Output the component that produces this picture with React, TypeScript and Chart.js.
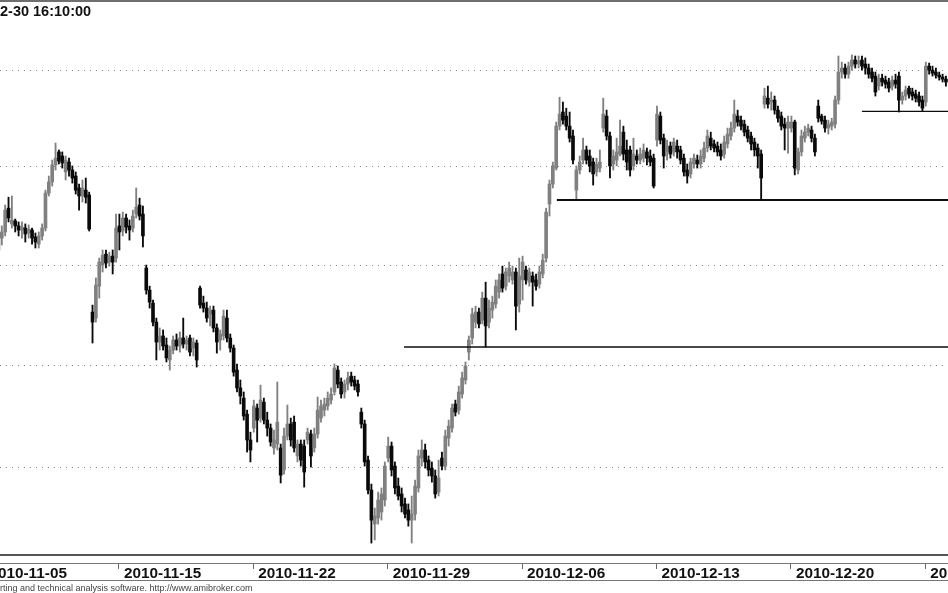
import { useEffect, useRef } from "react";
import { Chart, registerables } from "chart.js";

Chart.register(...registerables);

// ---- data (hourly bars, index 0 = first bar of 2010-11-05) ----
const firstBar = 4;

const openPrices = [
  2707.6, 2713.6, 2716.7, 2728.8,
  2720.8, 2722.3, 2719.8, 2717.7, 2718.7, 2716.2, 2717.7, 2714.2,
  2710.6, 2714.7, 2718.7, 2736.5, 2742.2, 2750.9, 2757.6, 2755.5,
  2747.3, 2752.4, 2748.3, 2745.2, 2739.1, 2735.0, 2738.0, 2735.5,
  2676.4, 2673.4, 2689.4, 2700.0, 2705.5, 2701.5, 2704.5, 2703.5,
  2719.8, 2717.2, 2723.8, 2719.8, 2718.7, 2725.8, 2730.4, 2725.8,
  2698.5, 2687.4, 2680.9, 2671.4, 2661.5, 2664.5, 2660.0, 2652.6,
  2657.5, 2662.5, 2659.5, 2663.5, 2660.5, 2663.5, 2658.5, 2661.0,
  2688.4, 2680.9, 2678.4, 2675.4, 2677.4, 2668.5, 2662.5, 2664.5,
  2673.4, 2663.5, 2658.5, 2647.6, 2638.8, 2633.8, 2625.9, 2613.3,
  2619.1, 2628.9, 2624.0, 2631.8, 2623.0, 2619.1, 2609.4, 2611.3,
  2609.4, 2598.7, 2615.2, 2621.1, 2622.0, 2605.5, 2611.3, 2610.3,
  2613.3, 2616.2, 2609.4, 2616.2, 2624.0, 2627.9, 2629.9, 2632.8,
  2636.8, 2647.6, 2641.7, 2636.8, 2640.7, 2644.6, 2642.7, 2640.7,
  2626.9, 2621.1, 2603.5, 2589.0, 2572.6, 2575.5, 2578.4, 2584.2,
  2604.5, 2610.3, 2600.6, 2590.9, 2587.1, 2582.3, 2579.4, 2574.5,
  2577.4, 2590.0, 2604.5, 2608.4, 2603.5, 2599.6, 2595.8, 2588.0,
  2604.5, 2600.6, 2614.2, 2619.1, 2630.9, 2627.9, 2635.8, 2642.7,
  2656.5, 2663.5, 2671.4, 2676.4, 2672.4, 2683.4, 2671.4, 2677.4,
  2680.4, 2686.4, 2695.5, 2689.4, 2694.5, 2692.5, 2696.5, 2680.4,
  2692.5, 2697.5, 2691.4, 2694.5, 2692.5, 2690.4, 2695.5, 2703.5,
  2730.9, 2741.1, 2749.3, 2770.9, 2778.2, 2776.1, 2770.9, 2765.8,
  2738.0, 2748.3, 2753.4, 2758.6, 2755.5, 2752.4, 2747.3, 2749.3,
  2769.9, 2776.1, 2765.8, 2751.4, 2753.4, 2756.5, 2767.8, 2758.6,
  2758.6, 2750.4, 2755.5, 2753.4, 2754.4, 2757.6, 2755.5, 2754.4,
  2763.7, 2776.1, 2764.7, 2757.6, 2760.6, 2757.6, 2760.6, 2758.6,
  2754.4, 2748.3, 2746.3, 2751.4, 2753.4, 2751.4, 2754.4, 2759.6,
  2764.7, 2761.7, 2760.6, 2758.6, 2756.5, 2761.7, 2765.8, 2769.9,
  2776.1, 2774.0, 2771.9, 2768.9, 2765.8, 2762.7, 2759.6, 2756.5,
  2782.3, 2785.4, 2783.4, 2784.4, 2779.2, 2776.1, 2771.9, 2769.9,
  2769.9, 2773.0, 2748.3, 2757.6, 2764.7, 2767.8, 2768.9, 2764.7,
  2781.3, 2776.1, 2774.0, 2769.9, 2770.9, 2771.9, 2784.4, 2799.0,
  2801.1, 2797.9, 2802.1, 2805.3, 2803.2, 2805.3, 2803.2, 2801.1,
  2799.0, 2796.9, 2791.7, 2795.8, 2794.8, 2793.8, 2791.7, 2794.8,
  2796.9, 2784.4, 2786.5, 2790.6, 2788.6, 2787.5, 2786.5, 2784.4,
  2783.4, 2802.1, 2800.0, 2799.0, 2797.4, 2796.4, 2795.3,
];

const highPrices = [
  2716.7, 2719.8, 2730.4, 2734.4,
  2735.0, 2723.3, 2721.8, 2721.8, 2720.8, 2720.3, 2718.7, 2716.2,
  2716.7, 2720.8, 2738.0, 2745.2, 2753.4, 2762.2, 2758.6, 2757.6,
  2755.5, 2754.4, 2750.4, 2747.3, 2741.1, 2743.2, 2744.2, 2737.0,
  2679.9, 2693.5, 2703.5, 2707.6, 2707.6, 2706.5, 2707.6, 2725.8,
  2725.8, 2726.8, 2725.8, 2722.8, 2727.8, 2739.1, 2733.9, 2729.9,
  2700.0, 2689.4, 2682.4, 2673.4, 2668.5, 2667.5, 2663.5, 2659.5,
  2664.5, 2665.5, 2666.5, 2673.4, 2664.5, 2665.0, 2663.5, 2662.5,
  2689.4, 2684.4, 2681.4, 2679.4, 2679.4, 2670.5, 2667.5, 2677.4,
  2677.4, 2665.5, 2660.0, 2650.6, 2642.7, 2636.8, 2627.9, 2617.1,
  2632.8, 2630.9, 2640.2, 2633.8, 2626.9, 2621.1, 2618.1, 2641.7,
  2611.3, 2619.1, 2630.4, 2624.0, 2625.0, 2613.3, 2613.3, 2613.3,
  2619.1, 2618.1, 2619.1, 2634.3, 2632.8, 2633.8, 2636.8, 2638.8,
  2650.6, 2649.6, 2643.7, 2642.7, 2646.6, 2646.6, 2644.6, 2642.7,
  2628.9, 2623.0, 2605.5, 2591.9, 2580.3, 2588.0, 2590.0, 2602.6,
  2614.7, 2612.3, 2602.6, 2594.8, 2590.0, 2585.1, 2582.3, 2586.1,
  2593.8, 2608.4, 2613.3, 2611.3, 2605.5, 2602.6, 2598.7, 2603.5,
  2607.4, 2618.1, 2623.0, 2630.9, 2632.8, 2639.7, 2646.6, 2651.6,
  2664.5, 2678.4, 2679.4, 2678.4, 2686.4, 2691.4, 2682.4, 2684.4,
  2692.5, 2695.5, 2699.5, 2698.5, 2701.5, 2699.5, 2698.5, 2703.5,
  2704.5, 2699.5, 2698.5, 2696.5, 2695.5, 2699.5, 2705.5, 2728.8,
  2743.2, 2752.4, 2773.0, 2785.9, 2783.4, 2780.2, 2778.2, 2768.9,
  2750.4, 2755.5, 2764.7, 2760.6, 2758.6, 2754.4, 2754.4, 2758.6,
  2785.4, 2779.2, 2767.8, 2758.6, 2764.7, 2774.0, 2770.9, 2763.7,
  2760.6, 2764.7, 2758.6, 2759.6, 2761.7, 2759.6, 2758.6, 2756.5,
  2781.3, 2778.2, 2766.8, 2763.7, 2762.7, 2764.7, 2763.7, 2760.6,
  2756.5, 2751.4, 2754.4, 2756.5, 2756.0, 2758.6, 2762.7, 2768.9,
  2767.8, 2763.7, 2762.7, 2761.7, 2765.8, 2769.9, 2773.0, 2784.4,
  2779.2, 2776.1, 2774.0, 2770.9, 2767.8, 2764.7, 2761.7, 2758.6,
  2790.6, 2791.7, 2788.6, 2786.5, 2781.3, 2778.2, 2775.0, 2776.1,
  2776.1, 2774.0, 2759.6, 2768.9, 2770.9, 2771.9, 2770.9, 2766.8,
  2784.4, 2777.1, 2776.1, 2774.0, 2775.0, 2786.5, 2807.4, 2804.2,
  2803.2, 2804.2, 2808.0, 2807.4, 2807.4, 2807.4, 2806.4, 2803.2,
  2801.1, 2799.0, 2797.9, 2797.9, 2796.9, 2795.8, 2796.9, 2797.9,
  2799.0, 2788.6, 2791.7, 2791.7, 2790.6, 2789.6, 2788.6, 2786.5,
  2804.2, 2803.7, 2802.1, 2801.1, 2799.0, 2797.9, 2796.9,
];

const lowPrices = [
  2704.5, 2710.1, 2714.7, 2721.8,
  2718.7, 2716.7, 2714.7, 2713.6, 2711.6, 2713.6, 2710.6, 2708.6,
  2708.6, 2712.6, 2717.2, 2735.0, 2740.1, 2748.3, 2751.4, 2749.3,
  2743.2, 2745.2, 2741.6, 2736.0, 2727.8, 2731.9, 2731.4, 2717.2,
  2661.0, 2671.4, 2683.4, 2696.5, 2698.5, 2699.5, 2695.5, 2701.5,
  2707.6, 2714.7, 2716.2, 2712.6, 2716.7, 2723.8, 2722.8, 2709.1,
  2685.4, 2678.4, 2669.5, 2652.6, 2657.5, 2657.5, 2651.6, 2647.6,
  2655.6, 2657.5, 2656.5, 2658.5, 2657.5, 2654.6, 2654.6, 2649.1,
  2678.4, 2676.4, 2671.4, 2669.5, 2666.5, 2656.0, 2657.5, 2662.5,
  2661.5, 2656.5, 2644.6, 2636.8, 2630.9, 2623.0, 2607.4, 2602.6,
  2617.1, 2612.3, 2622.0, 2621.1, 2615.2, 2610.3, 2606.4, 2608.4,
  2592.4, 2596.7, 2613.3, 2610.3, 2607.4, 2602.6, 2600.6, 2590.4,
  2611.3, 2600.1, 2607.4, 2614.2, 2622.0, 2625.0, 2627.9, 2630.9,
  2635.3, 2638.8, 2633.8, 2633.8, 2637.8, 2639.7, 2637.8, 2634.8,
  2619.1, 2600.6, 2587.1, 2563.5, 2565.0, 2572.6, 2574.5, 2581.3,
  2602.6, 2595.8, 2587.1, 2584.2, 2578.4, 2575.5, 2571.6, 2563.5,
  2574.5, 2588.0, 2600.6, 2599.6, 2595.8, 2592.8, 2585.1, 2586.1,
  2598.7, 2598.7, 2610.3, 2617.1, 2625.0, 2625.9, 2633.8, 2640.7,
  2652.6, 2660.5, 2668.5, 2668.5, 2670.5, 2659.0, 2668.5, 2673.4,
  2678.4, 2683.4, 2686.4, 2687.4, 2691.4, 2690.4, 2667.5, 2676.4,
  2682.4, 2690.4, 2689.4, 2679.4, 2687.4, 2688.4, 2693.5, 2701.5,
  2724.8, 2739.1, 2748.3, 2768.9, 2771.9, 2768.9, 2762.7, 2751.4,
  2732.9, 2746.3, 2751.4, 2751.4, 2747.3, 2740.6, 2745.2, 2747.3,
  2767.8, 2763.7, 2744.2, 2748.3, 2750.4, 2755.5, 2753.4, 2748.3,
  2745.2, 2748.3, 2751.4, 2751.4, 2752.4, 2750.9, 2750.4, 2739.1,
  2760.6, 2761.7, 2749.3, 2753.4, 2754.4, 2755.5, 2754.4, 2751.4,
  2745.2, 2741.6, 2744.2, 2749.3, 2749.3, 2749.3, 2752.4, 2757.6,
  2758.6, 2757.6, 2755.5, 2753.4, 2754.4, 2759.6, 2763.7, 2767.8,
  2770.9, 2768.9, 2765.8, 2762.7, 2758.6, 2755.5, 2749.3, 2732.9,
  2780.2, 2780.2, 2779.2, 2777.1, 2773.0, 2768.9, 2758.6, 2757.0,
  2767.8, 2745.8, 2746.3, 2755.5, 2762.7, 2765.8, 2762.7, 2755.5,
  2773.0, 2771.9, 2767.8, 2766.8, 2768.9, 2769.9, 2782.3, 2795.8,
  2795.8, 2795.8, 2800.0, 2801.1, 2801.1, 2800.0, 2797.9, 2795.8,
  2793.8, 2786.5, 2789.6, 2791.7, 2790.6, 2788.6, 2789.6, 2790.6,
  2778.2, 2782.3, 2784.4, 2785.4, 2784.4, 2783.4, 2781.3, 2778.7,
  2781.3, 2797.9, 2796.9, 2795.8, 2794.8, 2793.8, 2791.7,
];

const closePrices = [
  2713.6, 2716.7, 2727.8, 2723.8,
  2722.8, 2719.8, 2717.7, 2719.2, 2715.7, 2718.2, 2713.6, 2711.6,
  2714.7, 2718.7, 2736.5, 2742.2, 2750.9, 2754.4, 2752.9, 2751.9,
  2753.4, 2748.3, 2744.2, 2738.0, 2735.0, 2739.1, 2734.4, 2718.2,
  2671.4, 2689.9, 2701.5, 2705.0, 2701.0, 2704.5, 2701.5, 2718.7,
  2716.7, 2723.8, 2719.2, 2717.7, 2724.8, 2729.3, 2724.8, 2714.7,
  2687.4, 2681.4, 2671.4, 2661.5, 2664.5, 2659.5, 2653.6, 2657.5,
  2662.5, 2659.5, 2663.5, 2660.5, 2662.5, 2656.5, 2661.5, 2652.6,
  2679.9, 2678.4, 2673.4, 2677.4, 2668.5, 2661.5, 2665.5, 2674.4,
  2663.5, 2658.5, 2646.6, 2638.8, 2634.8, 2625.0, 2613.3, 2608.4,
  2629.9, 2623.0, 2632.8, 2623.0, 2619.1, 2612.3, 2613.3, 2622.0,
  2596.2, 2615.2, 2621.1, 2613.3, 2609.4, 2611.3, 2603.5, 2597.7,
  2617.1, 2605.5, 2616.2, 2627.9, 2629.9, 2630.9, 2633.8, 2635.8,
  2648.6, 2640.7, 2635.8, 2640.7, 2643.7, 2641.7, 2639.7, 2636.8,
  2621.1, 2602.6, 2589.0, 2574.5, 2576.5, 2584.2, 2587.1, 2600.6,
  2610.3, 2598.7, 2590.0, 2586.1, 2581.3, 2577.4, 2574.5, 2577.4,
  2590.9, 2605.5, 2608.4, 2602.6, 2598.7, 2595.8, 2587.1, 2594.8,
  2600.6, 2615.2, 2620.1, 2628.9, 2626.9, 2636.8, 2643.7, 2649.6,
  2662.5, 2675.4, 2676.4, 2670.5, 2683.4, 2669.5, 2678.4, 2681.4,
  2689.4, 2692.5, 2688.4, 2696.5, 2698.5, 2696.5, 2679.4, 2694.5,
  2701.5, 2692.5, 2696.5, 2691.4, 2689.4, 2696.5, 2702.5, 2726.8,
  2741.1, 2750.4, 2770.9, 2777.1, 2774.0, 2770.9, 2764.7, 2753.4,
  2748.3, 2752.4, 2758.6, 2753.4, 2750.4, 2746.3, 2751.4, 2752.4,
  2777.1, 2765.8, 2750.4, 2755.5, 2757.6, 2760.6, 2756.5, 2752.4,
  2748.3, 2756.5, 2753.4, 2756.5, 2758.6, 2754.4, 2752.4, 2740.1,
  2777.1, 2763.7, 2755.5, 2760.6, 2756.5, 2762.7, 2757.6, 2753.4,
  2747.3, 2745.2, 2752.4, 2754.4, 2751.4, 2755.5, 2759.6, 2765.8,
  2760.6, 2759.6, 2757.6, 2755.5, 2762.7, 2766.8, 2769.9, 2777.1,
  2773.0, 2770.9, 2767.8, 2764.7, 2761.7, 2758.6, 2755.5, 2744.2,
  2786.5, 2782.3, 2784.4, 2779.2, 2775.0, 2770.9, 2769.9, 2773.0,
  2773.0, 2749.3, 2757.6, 2765.8, 2767.8, 2769.9, 2764.7, 2757.6,
  2775.0, 2773.5, 2769.9, 2771.9, 2773.0, 2784.4, 2799.0, 2801.1,
  2797.9, 2802.1, 2805.3, 2803.2, 2804.8, 2802.1, 2801.1, 2797.9,
  2795.8, 2788.6, 2795.8, 2793.8, 2792.7, 2790.6, 2794.8, 2792.7,
  2784.4, 2786.5, 2789.6, 2787.5, 2786.5, 2785.4, 2783.4, 2780.2,
  2802.1, 2800.0, 2798.4, 2797.4, 2796.4, 2795.3, 2793.8,
];

const priceGridLevels = [2600, 2650, 2700, 2750, 2800];

const weekStartLabels = [
  "2010-11-05", "2010-11-15", "2010-11-22", "2010-11-29",
  "2010-12-06", "2010-12-13", "2010-12-20", "2010-12-27",
];
const weekStartBars = [0, 40, 80, 120, 160, 200, 240, 280];

const supportLevels = [2733.0, 2659.0, 2778.5];
const supportFromBar = [170.2, 124.7, 261.0];
const supportWidths = [2, 1.5, 1.3];

const headerText = "2-30 16:10:00";
const footerText = "rting and technical analysis software. http://www.amibroker.com";

// ---- layout / style ----
const W = 948;
const H = 593;
const X_MIN = 4.464;
const X_MAX = 286.61;
const Y_MIN = 2557.8;
const Y_MAX = 2835.3;
const UP_COLOR = "#808080";
const DOWN_COLOR = "#0a0a0a";
const FONT = '"Liberation Sans", Arial, Helvetica, sans-serif';

const decorPlugin = {
  id: "amiDecor",
  afterDraw(chart: any) {
    const ctx = chart.ctx as CanvasRenderingContext2D;
    const xs = chart.scales.x;
    const bottom = chart.chartArea.bottom;
    ctx.save();
    // top frame
    ctx.fillStyle = "#6f6f6f";
    ctx.fillRect(0, 0, W, 2);
    // header
    ctx.fillStyle = "#111";
    ctx.font = `bold 14.5px ${FONT}`;
    ctx.textAlign = "left";
    ctx.textBaseline = "alphabetic";
    ctx.fillText(headerText, 0, 16);
    // date axis frame
    ctx.fillStyle = "#555";
    ctx.fillRect(0, bottom - 1, W, 2);
    ctx.fillStyle = "#777";
    ctx.fillRect(0, bottom + 8, W, 1);
    ctx.fillRect(0, bottom + 25, W, 1);
    // tick marks + labels
    ctx.font = `bold 15.3px ${FONT}`;
    weekStartBars.forEach((bar, k) => {
      const px = xs.getPixelForValue(bar);
      ctx.fillStyle = "#666";
      ctx.fillRect(Math.round(px) - 1, bottom + 9, 1, 5);
      ctx.fillStyle = "#111";
      ctx.fillText(weekStartLabels[k], px + 4.5, bottom + 23);
    });
    // footer
    ctx.fillStyle = "#444";
    ctx.font = `9px ${FONT}`;
    ctx.fillText(footerText, 0, H - 2);
    ctx.restore();
  },
};

export default function App() {
  const ref = useRef<HTMLCanvasElement | null>(null);

  useEffect(() => {
    if (!ref.current) return;
    const n = Math.min(openPrices.length, highPrices.length, lowPrices.length, closePrices.length);
    const bodies: any[] = [];
    const wicks: any[] = [];
    const colors: string[] = [];
    for (let k = 0; k < n; k++) {
      const x = firstBar + k;
      const o = openPrices[k];
      const c = closePrices[k];
      colors.push(c >= o ? UP_COLOR : DOWN_COLOR);
      bodies.push({ x, y: [Math.min(o, c), Math.max(o, c)] });
      wicks.push({ x, y: [lowPrices[k], highPrices[k]] });
    }

    const lineSets = supportLevels.map((lvl, k) => ({
      type: "line" as const,
      data: [
        { x: supportFromBar[k], y: lvl },
        { x: X_MAX, y: lvl },
      ],
      borderColor: "#0d0d0d",
      borderWidth: supportWidths[k],
      pointRadius: 0,
      fill: false,
      order: 0,
    }));

    const chart = new Chart(ref.current, {
      type: "bar",
      data: {
        datasets: [
          ...lineSets,
          {
            type: "bar",
            data: bodies,
            backgroundColor: colors,
            borderWidth: 0,
            barThickness: 3,
            minBarLength: 1,
            grouped: false,
            order: 1,
          },
          {
            type: "bar",
            data: wicks,
            backgroundColor: colors,
            borderWidth: 0,
            barThickness: 1.2,
            grouped: false,
            order: 2,
          },
        ] as any,
      },
      options: {
        animation: false,
        responsive: false,
        devicePixelRatio: 1,
        events: [],
        layout: { padding: { top: 3, bottom: H - 555, left: 0, right: 0 } },
        plugins: { legend: { display: false }, tooltip: { enabled: false } },
        scales: {
          x: {
            type: "linear",
            min: X_MIN,
            max: X_MAX,
            offset: false,
            display: false,
            grid: { offset: false },
          },
          y: {
            type: "logarithmic",
            min: Y_MIN,
            max: Y_MAX,
            beginAtZero: false,
            display: true,
            ticks: { display: false },
            grid: { color: "#8a8a8a", lineWidth: 1, drawTicks: false },
            border: { display: false, dash: [1, 5] },
            afterBuildTicks: (scale: any) => {
              scale.ticks = priceGridLevels.map((v) => ({ value: v }));
            },
          },
        },
      } as any,
      plugins: [decorPlugin],
    });
    return () => chart.destroy();
  }, []);

  return (
    <div style={{ position: "absolute", left: 0, top: 0, width: W, height: H, background: "#fff" }}>
      <canvas ref={ref} width={W} height={H} style={{ display: "block", width: W, height: H }} />
    </div>
  );
}
